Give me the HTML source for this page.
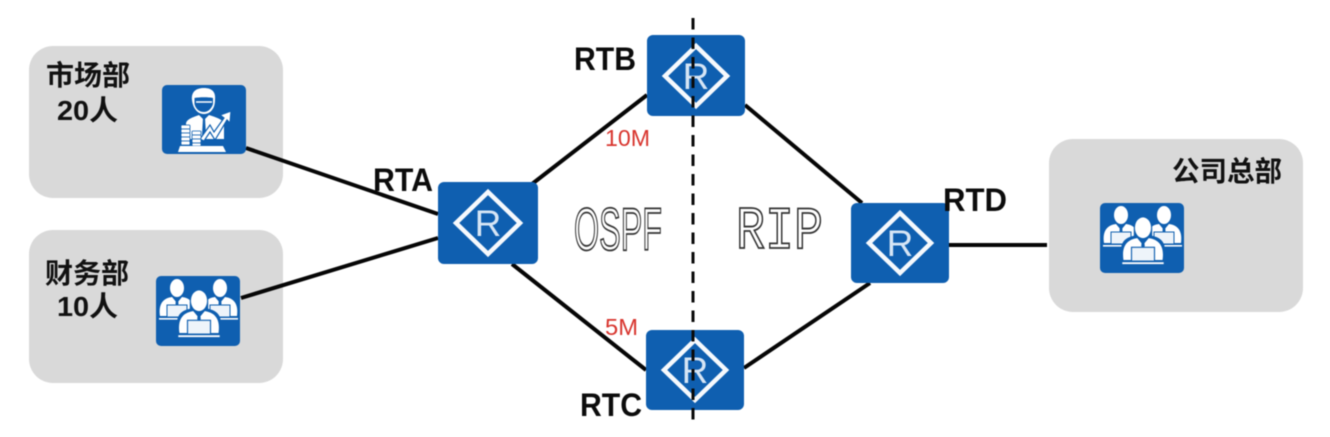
<!DOCTYPE html>
<html lang="zh">
<head>
<meta charset="utf-8">
<title>OSPF RIP</title>
<style>
html,body{margin:0;padding:0;background:#fff;width:1330px;height:437px;overflow:hidden}
svg{display:block;filter:blur(.55px)}
.cn{font-family:"Liberation Sans","Noto Sans CJK SC",sans-serif;font-weight:700;font-size:28px;fill:#111}
.rt{font-family:"Liberation Sans",sans-serif;font-weight:700;font-size:32px;fill:#0c0c0c}
.sp{font-family:"Liberation Sans",sans-serif;font-size:23px;fill:#d8352e}
.r{font-family:"Liberation Sans",sans-serif;font-size:37px;fill:#d6e5f5;text-anchor:middle}
.ln{stroke:#060606;stroke-width:4;fill:none}
.dia{fill:none;stroke:#f6f9fd;stroke-width:4.500}
</style>
</head>
<body>
<svg width="1330" height="437" viewBox="0 0 1330 437" xmlns="http://www.w3.org/2000/svg">
<defs>
<g id="person">
<ellipse cx="0" cy="-15" rx="7" ry="9" fill="#fff"/>
<path d="M-17 13 C-19 -1,-12 -5,-5 -6 L0 0 L5 -6 C12 -5,19 -1,17 13 Z" fill="#fff"/>
<path d="M-1 -5 L1 -5 L1.500 1 L0 3 L-1.500 1 Z" fill="#0f5fb0"/>
<rect x="-10" y="2" width="20" height="12" fill="#eef4fa" stroke="#0f5fb0" stroke-width="1"/>
<rect x="-18" y="15" width="36" height="1.600" fill="#fff"/>
</g>
<g id="team">
<rect x="0" y="0" width="84" height="70" rx="5" fill="#0f5fb0"/>
<use href="#person" transform="translate(21,27)"/>
<use href="#person" transform="translate(64,27)"/>
<g transform="translate(43,42) scale(1.150)">
<path d="M-19 14 V4 C-19 -5,-12 -7,-8 -8 V-22 H8 V-8 C12 -7,19 -5,19 4 V14 Z" fill="#0f5fb0"/>
<use href="#person"/>
</g>
</g>
</defs>

<rect x="29" y="46" width="254" height="152" rx="24" fill="#d9d9d9"/>
<rect x="29" y="230" width="254" height="153" rx="24" fill="#d9d9d9"/>
<rect x="1049" y="139" width="254" height="173" rx="24" fill="#d9d9d9"/>

<path class="ln" d="M246 148 L438 214"/>
<path class="ln" d="M241 298 L438 238"/>
<path class="ln" d="M532 184 L647 95"/>
<path class="ln" d="M512 264 L646 370"/>
<path class="ln" d="M745 105 L862 203"/>
<path class="ln" d="M744 368 L870 283"/>
<path class="ln" d="M949 245 L1047 245"/>

<!-- Manager icon -->
<g transform="translate(162,85)">
<rect width="84" height="69" rx="5" fill="#0f5fb0"/>
<path d="M30 15 C29 6,35 3,42 3 C50 3,54 7,53 15 C53 24,48 29,42 29 C36 29,31 24,30 15 Z" fill="#fff"/>
<path d="M32.500 13 C37 12,47 12,51 13 V19 C49 25,45 27,42 27 C38 27,34 25,32.500 19 Z" fill="#0f5fb0"/>
<path d="M34 17 H50" stroke="#fff" stroke-width="1.500"/>
<path d="M24 54 V39 C24 34,32 32,37 30 L42 35 L47 30 C53 32,60 34,62 38 V54 Z" fill="#fff"/>
<path d="M41 33 H43 L44 50 L42 53 L40 50 Z" fill="#0f5fb0"/>
<path d="M38 54 L48 40 L52 47 L62 33 L58 30 L69 26 L68 38 L65 35 L53 55 L48 47 L42 56 Z" fill="#fff" stroke="#0f5fb0" stroke-width="1.200"/>
<g fill="#fff" stroke="#0f5fb0" stroke-width=".8">
<rect x="19" y="40" width="9" height="4" rx="1"/><rect x="19" y="44" width="9" height="4" rx="1"/><rect x="19" y="48" width="9" height="4" rx="1"/><rect x="19" y="52" width="9" height="4" rx="1"/><rect x="19" y="56" width="9" height="4" rx="1"/>
<rect x="30" y="46" width="9" height="4" rx="1"/><rect x="30" y="50" width="9" height="4" rx="1"/><rect x="30" y="54" width="9" height="4" rx="1"/><rect x="30" y="58" width="9" height="3" rx="1"/>
</g>
<path d="M18 61 H61 L64 67 H16 Z" fill="#fff"/>
</g>

<use href="#team" transform="translate(156,276)"/>
<use href="#team" transform="translate(1100,203)"/>

<!-- Routers -->
<g>
<rect x="438" y="182" width="100" height="82" rx="6" fill="#0f5fb0"/>
<path class="dia" d="M488 192 L520 223 L488 254 L456 223 Z"/>
<text class="r" x="488" y="236">R</text>

<rect x="647" y="35" width="98" height="81" rx="6" fill="#0f5fb0"/>
<path class="dia" d="M696 46 L727 76 L696 106 L665 76 Z"/>
<text class="r" x="696" y="89">R</text>

<rect x="646" y="330" width="98" height="80" rx="6" fill="#0f5fb0"/>
<path class="dia" d="M695 340 L726 370 L695 400 L664 370 Z"/>
<text class="r" x="695" y="383">R</text>

<rect x="851" y="203" width="98" height="80" rx="6" fill="#0f5fb0"/>
<path class="dia" d="M900 213 L931 243 L900 273 L869 243 Z"/>
<text class="r" x="900" y="256">R</text>
</g>

<!-- Dashed divider -->
<line x1="693" y1="18" x2="693" y2="424" stroke="#0a0a0a" stroke-width="3" stroke-dasharray="11.500 8"/>

<!-- Outline text -->
<text x="574" y="250" font-family="Liberation Sans,sans-serif" font-size="60" fill="#fff" stroke="#333" stroke-width="1.800" textLength="88" lengthAdjust="spacingAndGlyphs">OSPF</text>
<text x="736" y="248" font-family="Liberation Mono,monospace" font-size="60" fill="#fff" stroke="#333" stroke-width="1.800" textLength="87" lengthAdjust="spacingAndGlyphs">RIP</text>

<!-- Labels -->
<text class="cn" x="46" y="85" textLength="84" lengthAdjust="spacingAndGlyphs">市场部</text>
<text class="cn" x="57" y="120" textLength="61" lengthAdjust="spacingAndGlyphs">20人</text>
<text class="cn" x="45" y="283" textLength="84" lengthAdjust="spacingAndGlyphs">财务部</text>
<text class="cn" x="57" y="316" textLength="61" lengthAdjust="spacingAndGlyphs">10人</text>
<text class="cn" x="1172" y="181" textLength="110" lengthAdjust="spacingAndGlyphs">公司总部</text>

<text class="rt" x="373" y="191" textLength="60" lengthAdjust="spacingAndGlyphs">RTA</text>
<text class="rt" x="574" y="70" textLength="62" lengthAdjust="spacingAndGlyphs">RTB</text>
<text class="rt" x="580" y="416" textLength="62" lengthAdjust="spacingAndGlyphs">RTC</text>
<text class="rt" x="943" y="211" textLength="64" lengthAdjust="spacingAndGlyphs">RTD</text>

<text class="sp" x="605" y="146" textLength="45" lengthAdjust="spacingAndGlyphs">10M</text>
<text class="sp" x="605" y="335" textLength="33" lengthAdjust="spacingAndGlyphs">5M</text>
</svg>
</body>
</html>
